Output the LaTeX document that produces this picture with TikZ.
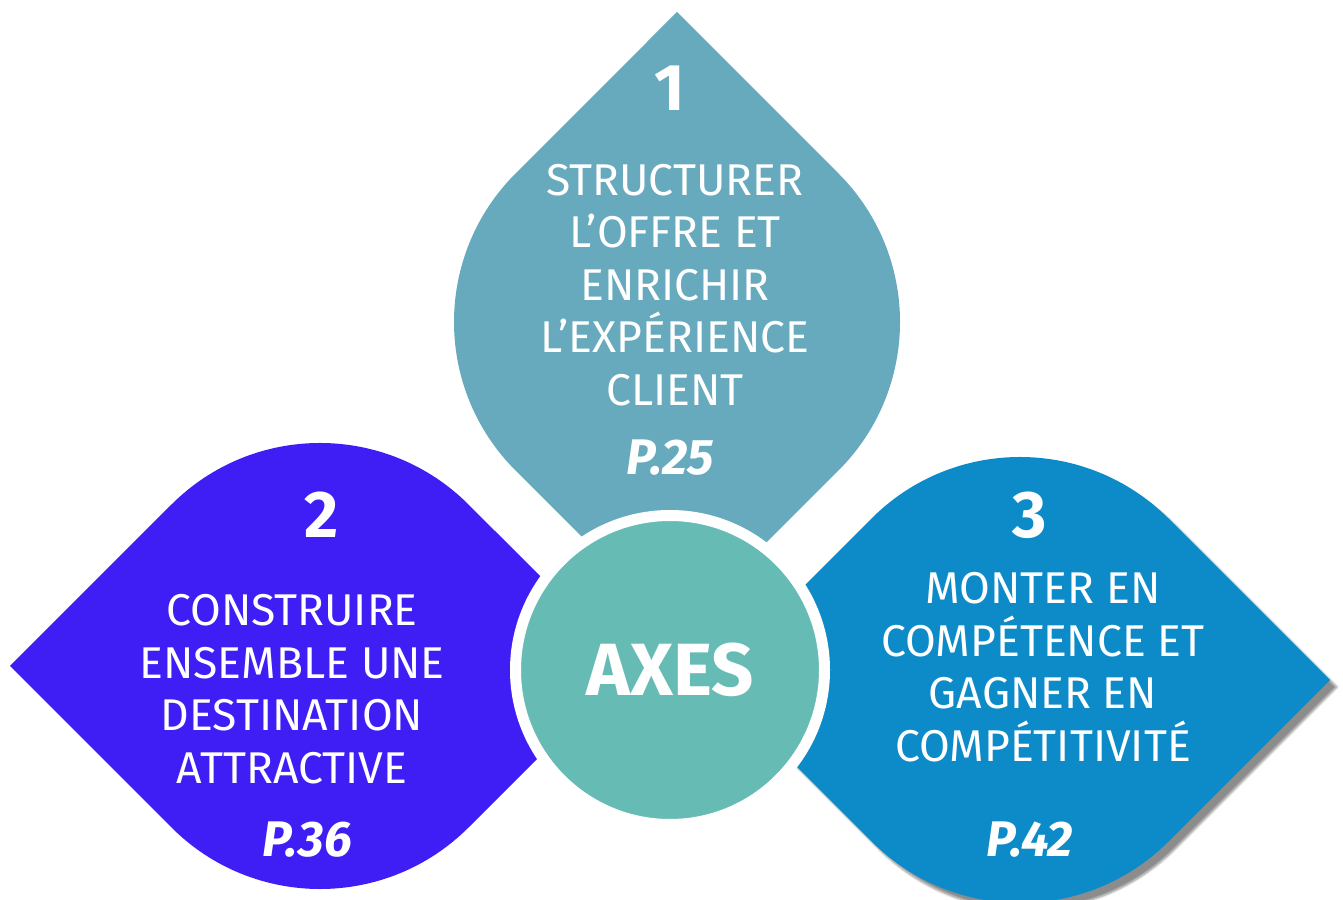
\documentclass[tikz,border=0pt]{standalone}
\usepackage{fontspec}
\setmainfont{Fira Sans}
\usetikzlibrary{shadows.blur}

\definecolor{feuilleA}{HTML}{67AABD}
\definecolor{feuilleB}{HTML}{3F1EF5}
\definecolor{feuilleC}{HTML}{0C8BC8}
\definecolor{centre}{HTML}{66BCB4}

\tikzset{
  feuille/.pic={
    \fill[#1] (0,310) -- (161.5,148.5) arc[start angle=45, end angle=-45, radius=210]
      -- (0,-310) -- (-161.5,-148.5) arc[start angle=225, end angle=135, radius=210] -- cycle;
  },
  chiffre/.style={text=white, font=\fontsize{66}{70}\selectfont\bfseries},
  libelle/.style={text=white, align=center, font=\fontsize{44.5}{52.5}\selectfont},
  renvoi/.style={text=white, font=\fontsize{50}{52}\selectfont\bfseries\itshape},
  titre/.style={text=white, font=\fontsize{74}{76}\selectfont\bfseries}
}

\begin{document}
\begin{tikzpicture}[x=1pt, y=1pt]
        \useasboundingbox (0,0) rectangle (1343,899);

        % Feuilles
        \pic at (677,577) {feuille={feuilleA}};
        \pic[rotate=90] at (320,233) {feuille={feuilleB}};
        \pic[rotate=-90] at (1020,219) {feuille={feuilleC, blur shadow={shadow xshift=7pt, shadow yshift=-7pt, shadow opacity=45, shadow blur steps=8}}};

        % Cercle central
        \node[circle, fill=centre, draw=white, line width=11pt, minimum size=309pt, inner sep=0pt] (axes) at (670,229) {};
        \node[titre] (titreaxes) at (axes.center) {AXES};

        % Textes
        \node[chiffre] (num1) at (670,811) {1};
        \node[libelle] (txt1) at (675,614) {STRUCTURER\\L’OFFRE ET\\ENRICHIR\\L’EXPÉRIENCE\\CLIENT};
        \node[renvoi] (page1) at (670,441) {P.25};

        \node[chiffre] (num2) at (322,384) {2};
        \node[libelle] (txt2) at (292,210) {CONSTRUIRE\\ENSEMBLE UNE\\DESTINATION\\ATTRACTIVE};
        \node[renvoi] (page2) at (307,59) {P.36};

        \node[chiffre] (num3) at (1030,384) {3};
        \node[libelle] (txt3) at (1043,232) {MONTER EN\\COMPÉTENCE ET\\GAGNER EN\\COMPÉTITIVITÉ};
        \node[renvoi] (page3) at (1030,59) {P.42};
    \end{tikzpicture}
\end{document}
